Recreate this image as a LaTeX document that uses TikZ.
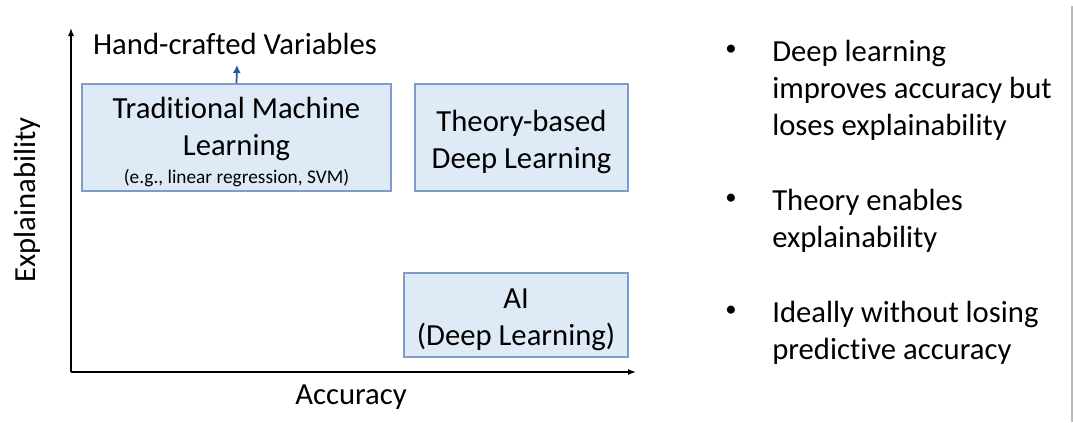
\documentclass[tikz,border=0pt]{standalone}
\usepackage{fontspec}
\setmainfont{Carlito}[Ligatures=NoCommon]
\usetikzlibrary{arrows.meta}
\definecolor{boxfill}{HTML}{DEEBF7}
\definecolor{boxline}{HTML}{7F9BCB}
\definecolor{arrowblue}{HTML}{2F5597}
\tikzset{
  bigfont/.style={font=\fontsize{23}{27.75}\selectfont},
  qbox/.style={draw=boxline, fill=boxfill, line width=1pt, inner sep=0pt},
  boxtext/.style={inner sep=0pt, align=center, bigfont, yshift=-3.5pt},
  bullettext/.style={anchor=north west, inner sep=0pt, align=left, bigfont},
  dot/.style={inner sep=0pt, font=\fontsize{17}{20}\selectfont},
}
\begin{document}
\begin{tikzpicture}[x=0.75pt, y=-0.75pt]
       \useasboundingbox (0,0) rectangle (1073,422);
       \coordinate(Origin)at(71,372);
       \coordinate(YTip)at(71,28);
       \coordinate(XTip)at(636,372);
       \coordinate(HandTip)at(237,65);
       \draw[line width=0.9pt, -{Latex[length=6pt,width=4.5pt]}](Origin)--(YTip);
       \draw[line width=0.9pt, -{Latex[length=6pt,width=4.5pt]}](Origin)--(XTip);
       \node[bigfont, rotate=90](Explain)at(27,200){Explainability};
       \node[bigfont](Accuracy)at(351,397){Accuracy};
       \node[bigfont](Hand)at(235,44){Hand-crafted Variables};
       \node[qbox, minimum width=231.75pt, minimum height=80.25pt](Traditional)at(236.5,137.5){};
       \node[qbox, minimum width=159.75pt, minimum height=80.25pt](Theory)at(521.5,137.5){};
       \node[qbox, minimum width=168pt, minimum height=63pt](AI)at(516,315){};
       \node[boxtext](TraditionalText)at(Traditional.center)
         {Traditional Machine\\Learning\\[-7pt]{\fontsize{14.5}{21}\selectfont (e.g., linear regression, SVM)}};
       \node[boxtext](TheoryText)at(Theory.center){Theory-based\\Deep Learning};
       \node[boxtext](AIText)at(AI.center){AI\\(Deep Learning)};
       \draw[arrowblue, line width=1.3pt, -{Latex[length=6pt,width=6pt]}](Traditional.north)--(HandTip);
       \node[dot](DotA)at(731,50){•};
       \node[dot](DotB)at(731,199){•};
       \node[dot](DotC)at(731,311){•};
       \node[bullettext](TextA)at(772,40){Deep learning\\improves accuracy but\\loses explainability};
       \node[bullettext](TextB)at(772,189){Theory enables\\explainability};
       \node[bullettext](TextC)at(772,301){Ideally without losing\\predictive accuracy};
       \draw[gray!55, line width=1pt](1072,6)--(1072,422);
      \end{tikzpicture}
\end{document}
